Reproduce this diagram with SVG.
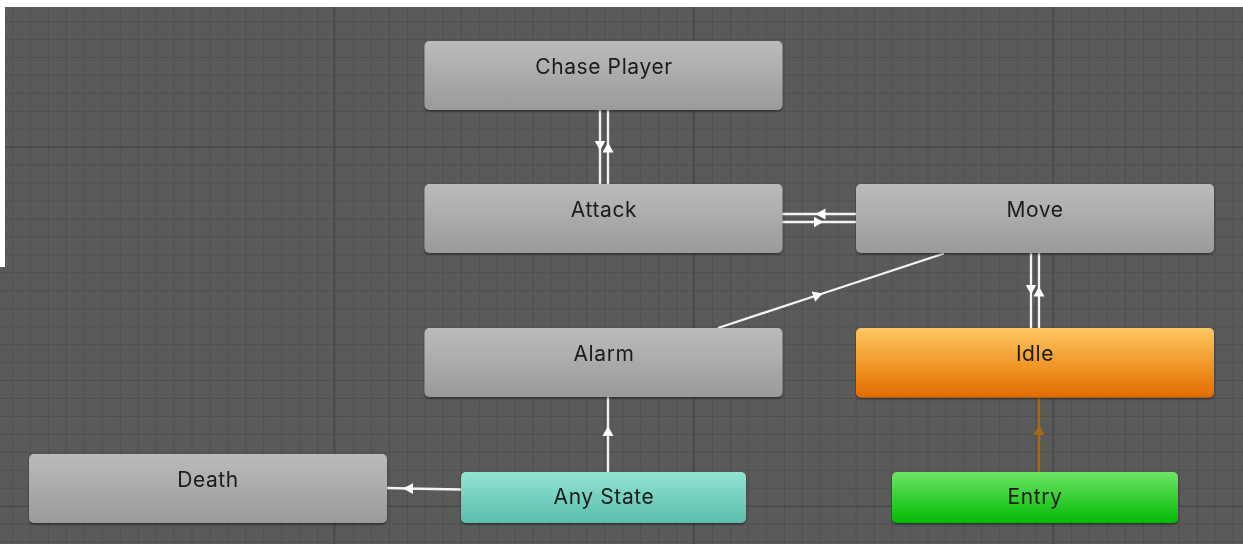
<svg xmlns="http://www.w3.org/2000/svg" width="1243" height="544" viewBox="0 0 1243 544">
  <defs>
    <pattern id="minor" patternUnits="userSpaceOnUse" x="12" y="21" width="17.95" height="17.95">
      <rect x="0" y="0" width="17.95" height="17.95" fill="#5a5a5a"/>
      <rect x="0" y="0" width="1" height="17.95" fill="#4f4f4f"/>
      <rect x="0" y="0" width="17.95" height="1" fill="#4f4f4f"/>
    </pattern>
    <linearGradient id="gGray" x1="0" y1="0" x2="0" y2="1">
      <stop offset="0" stop-color="#bbbbbb"/>
      <stop offset="1" stop-color="#9a9a9a"/>
    </linearGradient>
    <linearGradient id="gIdle" x1="0" y1="0" x2="0" y2="1">
      <stop offset="0" stop-color="#fec862"/>
      <stop offset="0.5" stop-color="#f29a2c"/>
      <stop offset="1" stop-color="#e26c00"/>
    </linearGradient>
    <linearGradient id="gAny" x1="0" y1="0" x2="0" y2="1">
      <stop offset="0" stop-color="#92e3d2"/>
      <stop offset="1" stop-color="#5bbead"/>
    </linearGradient>
    <linearGradient id="gEntry" x1="0" y1="0" x2="0" y2="1">
      <stop offset="0" stop-color="#6ee567"/>
      <stop offset="1" stop-color="#02b902"/>
    </linearGradient>
    <filter id="shadow" x="-5%" y="-10%" width="110%" height="130%">
      <feDropShadow dx="0" dy="1.5" stdDeviation="1.2" flood-color="#000" flood-opacity="0.45"/>
    </filter>
    <marker id="arrW" markerUnits="userSpaceOnUse" viewBox="0 0 12 12" markerWidth="12" markerHeight="12" refX="5" refY="6" orient="auto">
      <path d="M0,0.5 L10,6 L0,11.5 Z" fill="#ffffff"/>
    </marker>
    <marker id="arrB" markerUnits="userSpaceOnUse" viewBox="0 0 12 12" markerWidth="12" markerHeight="12" refX="5" refY="6" orient="auto">
      <path d="M0,0.5 L10,6 L0,11.5 Z" fill="#a56c0c"/>
    </marker>
  </defs>
  <style>
    .lbl { font-family: Inter, "Liberation Sans", sans-serif; font-size: 21px; letter-spacing: 0.6px; fill: #1b1b1b; text-anchor: middle; }
    .node { filter: url(#shadow); }
    .edge { fill: none; stroke: #f4f4f4; stroke-width: 2.3; marker-mid: url(#arrW); }
    .edgeB { fill: none; stroke: #a56c0c; stroke-width: 2.3; marker-mid: url(#arrB); }
    .maj { stroke: #464646; stroke-width: 1.2; }
  </style>

  <rect width="1243" height="544" fill="#ffffff"/>
  <rect x="0" y="7" width="1243" height="537" fill="url(#minor)"/>
  <g id="grid-major">
    <line class="maj" x1="334" y1="7" x2="334" y2="544"/>
    <line class="maj" x1="693.5" y1="7" x2="693.5" y2="544"/>
    <line class="maj" x1="1053" y1="7" x2="1053" y2="544"/>
    <line class="maj" x1="0" y1="147" x2="1243" y2="147"/>
    <line class="maj" x1="0" y1="506.5" x2="1243" y2="506.5"/>
  </g>
  <rect x="0" y="7" width="5" height="260" fill="#ffffff"/>

  <g id="connectors">
    <path class="edge" d="M600,110 L600,145.5 L600,184"/>
    <path class="edge" d="M608,184 L608,147.5 L608,110"/>
    <path class="edge" d="M856,214 L820.5,214 L782,214"/>
    <path class="edge" d="M782,222 L818.5,222 L856,222"/>
    <path class="edge" d="M718,328 L818,295 L944,253.5"/>
    <path class="edge" d="M1031,253 L1031,289.5 L1031,328"/>
    <path class="edge" d="M1039,328 L1039,291.5 L1039,253"/>
    <path class="edge" d="M608,472 L608,431 L608,397"/>
    <path class="edge" d="M461,489.5 L408,488.5 L387,488"/>
    <path class="edgeB" d="M1039,472 L1039,430 L1039,398"/>
  </g>

  <g id="chase-player" class="node">
    <rect x="424.5" y="41" width="358" height="69" rx="5" fill="url(#gGray)"/>
    <text class="lbl" x="604" y="74">Chase Player</text>
  </g>
  <g id="attack" class="node">
    <rect x="424.5" y="184" width="358" height="69" rx="5" fill="url(#gGray)"/>
    <text class="lbl" x="604" y="217">Attack</text>
  </g>
  <g id="move" class="node">
    <rect x="856" y="184" width="358" height="69" rx="5" fill="url(#gGray)"/>
    <text class="lbl" x="1035" y="217">Move</text>
  </g>
  <g id="alarm" class="node">
    <rect x="424.5" y="328" width="358" height="69" rx="5" fill="url(#gGray)"/>
    <text class="lbl" x="604" y="361">Alarm</text>
  </g>
  <g id="idle" class="node">
    <rect x="856" y="328" width="358" height="69.5" rx="5" fill="url(#gIdle)"/>
    <text class="lbl" x="1035" y="361">Idle</text>
  </g>
  <g id="death" class="node">
    <rect x="29" y="454" width="358" height="69" rx="5" fill="url(#gGray)"/>
    <text class="lbl" x="208" y="487">Death</text>
  </g>
  <g id="any-state" class="node">
    <rect x="461" y="472" width="285" height="51" rx="5" fill="url(#gAny)"/>
    <text class="lbl" x="604" y="504">Any State</text>
  </g>
  <g id="entry" class="node">
    <rect x="892" y="472" width="286" height="51" rx="5" fill="url(#gEntry)"/>
    <text class="lbl" x="1035" y="504">Entry</text>
  </g>
</svg>
